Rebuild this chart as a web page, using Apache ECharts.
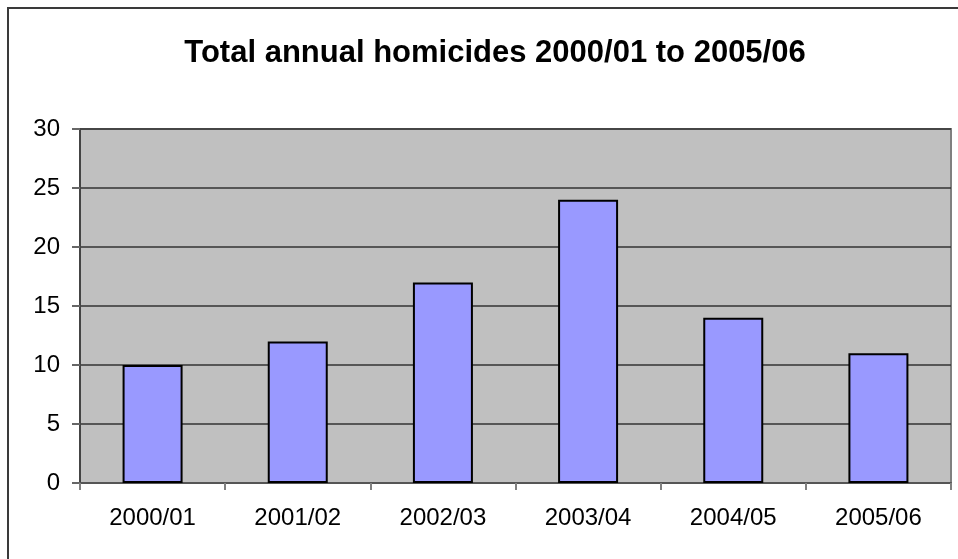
<!DOCTYPE html>
<html>
<head>
<meta charset="utf-8">
<script src="https://cdn.jsdelivr.net/npm/echarts@6/dist/echarts.min.js"></script>
<style>
  html, body { margin: 0; padding: 0; background: #ffffff; }
  #chart { width: 958px; height: 559px; }
</style>
</head>
<body>
<div id="chart"></div>
<script>
// Financial years and the homicide count recorded in each
const years = ['2000/01', '2001/02', '2002/03', '2003/04', '2004/05', '2005/06'];
const homicides = [10, 12, 17, 24, 14, 11];
const yTicks = [0, 5, 10, 15, 20, 25, 30];

const chart = echarts.init(document.getElementById('chart'), null, { renderer: 'canvas' });

const font = 'Liberation Sans, Arial, sans-serif';

chart.setOption({
  animation: false,
  backgroundColor: '#ffffff',
  title: {
    text: 'Total annual homicides 2000/01 to 2005/06',
    left: 490,
    top: 32,
    textAlign: 'center',
    textStyle: {
      fontFamily: font,
      fontSize: 31,
      lineHeight: 32,
      fontWeight: 'bold',
      color: '#000000'
    }
  },
  graphic: [
    {
      // outer chart frame
      type: 'rect',
      shape: { x: 8, y: 8, width: 970, height: 580 },
      style: { fill: 'none', stroke: '#3a3a3a', lineWidth: 2 },
      z: 100
    }
  ],
  grid: {
    left: 80,
    top: 129,
    right: 7,
    bottom: 76,
    show: true,
    backgroundColor: '#c0c0c0',
    borderColor: '#808080',
    borderWidth: 2
  },
  xAxis: {
    type: 'category',
    data: years,
    axisLine: { show: true, lineStyle: { color: '#555555', width: 2 } },
    axisTick: { show: true, length: 7, alignWithLabel: false, lineStyle: { color: '#808080', width: 2 } },
    axisLabel: {
      fontFamily: font,
      fontSize: 24,
      color: '#000000',
      margin: 23
    },
    splitLine: { show: false }
  },
  yAxis: {
    type: 'value',
    min: 0,
    max: 30,
    interval: 5,
    axisLine: { show: true, lineStyle: { color: '#444444', width: 2 } },
    axisTick: { show: true, length: 8, lineStyle: { color: '#666666', width: 2 } },
    axisLabel: {
      fontFamily: font,
      fontSize: 24,
      color: '#000000',
      margin: 20,
      formatter: function (v) { return yTicks.indexOf(v) >= 0 ? String(v) : ''; }
    },
    splitLine: { show: true, lineStyle: { color: '#333333', width: 1.5 } }
  },
  series: [
    {
      type: 'bar',
      data: homicides,
      barWidth: 60,
      itemStyle: {
        color: '#9999ff',
        borderColor: '#000000',
        borderWidth: 2
      }
    }
  ]
});
</script>
</body>
</html>
